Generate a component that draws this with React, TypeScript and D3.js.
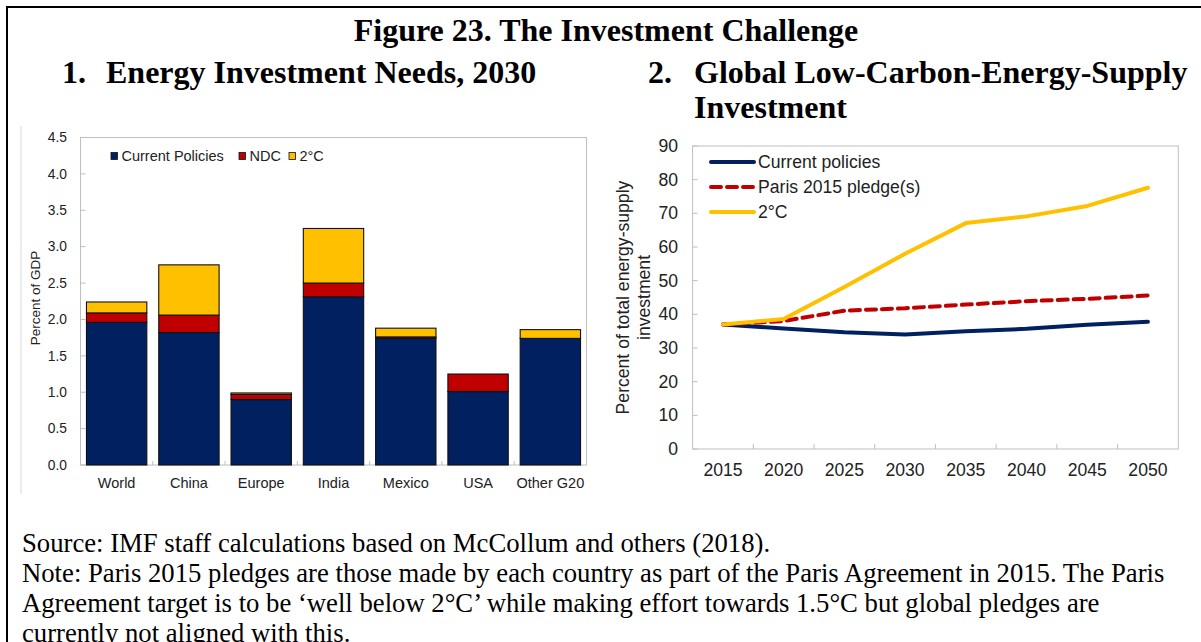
import React from "react";
import * as d3 from "d3";

// ---------- DATA ----------
const countries = ["World", "China", "Europe", "India", "Mexico", "USA", "Other G20"];
const currentPolicies = [1.96, 1.82, 0.9, 2.31, 1.74, 1.01, 1.74];
const ndcExtra = [0.13, 0.24, 0.07, 0.19, 0.02, 0.24, 0.0];
const twoDegExtra = [0.15, 0.69, 0.02, 0.75, 0.12, 0.0, 0.12];
const barSeries = ["Current Policies", "NDC", "2°C"];
const barTicks = [0, 0.5, 1, 1.5, 2, 2.5, 3, 3.5, 4, 4.5];

const years = ["2015", "2020", "2025", "2030", "2035", "2040", "2045", "2050"];
const currentLine = [37.0, 35.8, 34.7, 34.0, 35.0, 35.7, 36.9, 37.8];
const parisLine = [37.0, 38.0, 41.1, 41.8, 42.9, 43.9, 44.6, 45.6];
const twoDegLine = [37.0, 38.6, 48.1, 58.0, 67.1, 69.1, 72.2, 77.6];
const lineSeries = ["Current policies", "Paris 2015 pledge(s)", "2°C"];
const lineTicks = [0, 10, 20, 30, 40, 50, 60, 70, 80, 90];

const titleText = "Figure 23. The Investment Challenge";
const sub1Num = "1.";
const sub1Text = "Energy Investment Needs, 2030";
const sub2Num = "2.";
const sub2Line1 = "Global Low-Carbon-Energy-Supply";
const sub2Line2 = "Investment";
const noteLines = [
  "Source: IMF staff calculations based on McCollum and others (2018).",
  "Note: Paris 2015 pledges are those made by each country as part of the Paris Agreement in 2015. The Paris",
  "Agreement target is to be \u2018well below 2°C\u2019 while making effort towards 1.5°C but global pledges are",
  "currently not aligned with this.",
];

// ---------- STYLE ----------
const NAVY = "#002060";
const RED = "#C00000";
const GOLD = "#FFC000";
const SERIF = "'Liberation Serif', 'Times New Roman', serif";
const SANS = "'Liberation Sans', Arial, sans-serif";
const AXIS = "#bfbfbf";

function BarChart() {
  const left = 80.5, right = 586.5, top = 137.5, bottom = 465;
  const x = d3.scaleBand<string>().domain(countries).range([left, right]).paddingInner(0.165).paddingOuter(0.0825);
  const y = d3.scaleLinear().domain([0, 4.5]).range([bottom, top]);
  const rows = countries.map((c, i) => ({
    country: c,
    "Current Policies": currentPolicies[i],
    NDC: ndcExtra[i],
    "2°C": twoDegExtra[i],
  }));
  const stack = d3.stack<any>().keys(barSeries)(rows);
  const colors = [NAVY, RED, GOLD];
  const fs = 14.5;
  const legendX = [111, 239, 289];
  return (
    <g>
      <line x1={21} x2={21} y1={126} y2={494} stroke="#d9d9d9" strokeWidth={1} />
      <rect x={left} y={top} width={right - left} height={bottom - top} fill="#fff" stroke={AXIS} strokeWidth={1} />
      {barTicks.map((t) => (
        <g key={t}>
          <line x1={left} x2={left + 5} y1={y(t)} y2={y(t)} stroke={AXIS} />
          <text x={left - 13.5} y={y(t)} dy="0.35em" textAnchor="end" fontFamily={SANS} fontSize={13.8} fill="#222">
            {d3.format(".1f")(t)}
          </text>
        </g>
      ))}
      {countries.slice(1).map((c) => (
        <line key={c} x1={x(c)! - (x.step() - x.bandwidth()) / 2} x2={x(c)! - (x.step() - x.bandwidth()) / 2} y1={bottom} y2={bottom - 4} stroke={AXIS} />
      ))}
      {stack.map((s, si) => (
        <g key={s.key}>
          {s.map((d, i) =>
            d[1] - d[0] > 0 ? (
              <rect
                key={i}
                x={x(countries[i])}
                y={y(d[1])}
                width={x.bandwidth()}
                height={y(d[0]) - y(d[1])}
                fill={colors[si]}
                stroke="#111"
                strokeWidth={1.1}
              />
            ) : null
          )}
        </g>
      ))}
      {countries.map((c) => (
        <text key={c} x={x(c)! + x.bandwidth() / 2} y={488} textAnchor="middle" fontFamily={SANS} fontSize={fs} fill="#222">
          {c}
        </text>
      ))}
      <text transform={`translate(39.5,298) rotate(-90)`} textAnchor="middle" fontFamily={SANS} fontSize={13.5} fill="#222">
        Percent of GDP
      </text>
      {barSeries.map((s, i) => (
        <g key={s}>
          <rect x={legendX[i]} y={152.5} width={6.5} height={7} fill={colors[i]} stroke="#111" strokeWidth={0.8} />
          <text x={legendX[i] + 10.5} y={156} dy="0.35em" fontFamily={SANS} fontSize={fs} fill="#222">
            {s}
          </text>
        </g>
      ))}
    </g>
  );
}

function LineChart() {
  const left = 692.6, right = 1178.3, top = 146, bottom = 449;
  const x = d3.scaleBand<string>().domain(years).range([left, right]);
  const y = d3.scaleLinear().domain([0, 90]).range([bottom, top]);
  const cx = (d: string) => x(d)! + x.bandwidth() / 2;
  const fs = 17.6;
  const series = [
    { name: lineSeries[0], values: currentLine, color: NAVY, dash: undefined as string | undefined },
    { name: lineSeries[1], values: parisLine, color: RED, dash: "10 6" },
    { name: lineSeries[2], values: twoDegLine, color: GOLD, dash: undefined },
  ];
  const line = d3
    .line<number>()
    .x((_, i) => cx(years[i]))
    .y((v) => y(v));
  return (
    <g>
      <rect x={left} y={top} width={right - left} height={bottom - top} fill="#fff" stroke={AXIS} strokeWidth={1} />
      {lineTicks.map((t) => (
        <g key={t}>
          <line x1={left} x2={left + 5} y1={y(t)} y2={y(t)} stroke={AXIS} />
          <text x={left - 14.6} y={y(t)} dy="0.35em" textAnchor="end" fontFamily={SANS} fontSize={fs} fill="#222">
            {t}
          </text>
        </g>
      ))}
      {years.slice(1).map((yr) => (
        <line key={yr} x1={x(yr)} x2={x(yr)} y1={bottom} y2={bottom - 5} stroke={AXIS} />
      ))}
      {years.map((yr) => (
        <text key={yr} x={cx(yr)} y={476} textAnchor="middle" fontFamily={SANS} fontSize={fs} fill="#222">
          {yr}
        </text>
      ))}
      {series.map((s) => (
        <path
          key={s.name}
          d={line(s.values) || ""}
          fill="none"
          stroke={s.color}
          strokeWidth={4}
          strokeDasharray={s.dash}
          strokeLinejoin="round"
          strokeLinecap="round"
        />
      ))}
      {series.map((s, i) => (
        <g key={s.name}>
          <line x1={711} x2={754} y1={162 + i * 25} y2={162 + i * 25} stroke={s.color} strokeWidth={4} strokeDasharray={s.dash} strokeLinecap="round" />
          <text x={758} y={162 + i * 25} dy="0.35em" fontFamily={SANS} fontSize={fs} fill="#222">
            {s.name}
          </text>
        </g>
      ))}
      <text transform={`translate(629,${(top + bottom) / 2}) rotate(-90)`} textAnchor="middle" fontFamily={SANS} fontSize={fs} fill="#222">
        Percent of total energy-supply
      </text>
      <text transform={`translate(650,${(top + bottom) / 2}) rotate(-90)`} textAnchor="middle" fontFamily={SANS} fontSize={fs} fill="#222">
        investment
      </text>
    </g>
  );
}

export default function App() {
  const tf = 32;
  return (
    <svg
      width={1201}
      height={642}
      viewBox="0 0 1201 642"
      style={{ position: "absolute", left: 0, top: 0, display: "block", background: "#fff" }}
    >
      <rect x={0} y={0} width={1201} height={642} fill="#fff" />
      <line x1={6} x2={1201} y1={7} y2={7} stroke="#000" strokeWidth={2} />
      <line x1={7} x2={7} y1={6} y2={642} stroke="#000" strokeWidth={2} />
      <text x={606} y={41} textAnchor="middle" fontFamily={SERIF} fontWeight="bold" fontSize={tf} fill="#000">
        {titleText}
      </text>
      <text x={62} y={83} fontFamily={SERIF} fontWeight="bold" fontSize={tf} fill="#000">{sub1Num}</text>
      <text x={106} y={83} fontFamily={SERIF} fontWeight="bold" fontSize={tf} fill="#000">{sub1Text}</text>
      <text x={648} y={83} fontFamily={SERIF} fontWeight="bold" fontSize={tf} fill="#000">{sub2Num}</text>
      <text x={694} y={83} fontFamily={SERIF} fontWeight="bold" fontSize={tf} fill="#000">{sub2Line1}</text>
      <text x={694} y={118} fontFamily={SERIF} fontWeight="bold" fontSize={tf} fill="#000">{sub2Line2}</text>
      <BarChart />
      <LineChart />
      {noteLines.map((l, i) => (
        <text key={i} x={22} y={552 + i * 30} fontFamily={SERIF} fontSize={26.7} fill="#000">
          {l}
        </text>
      ))}
    </svg>
  );
}
